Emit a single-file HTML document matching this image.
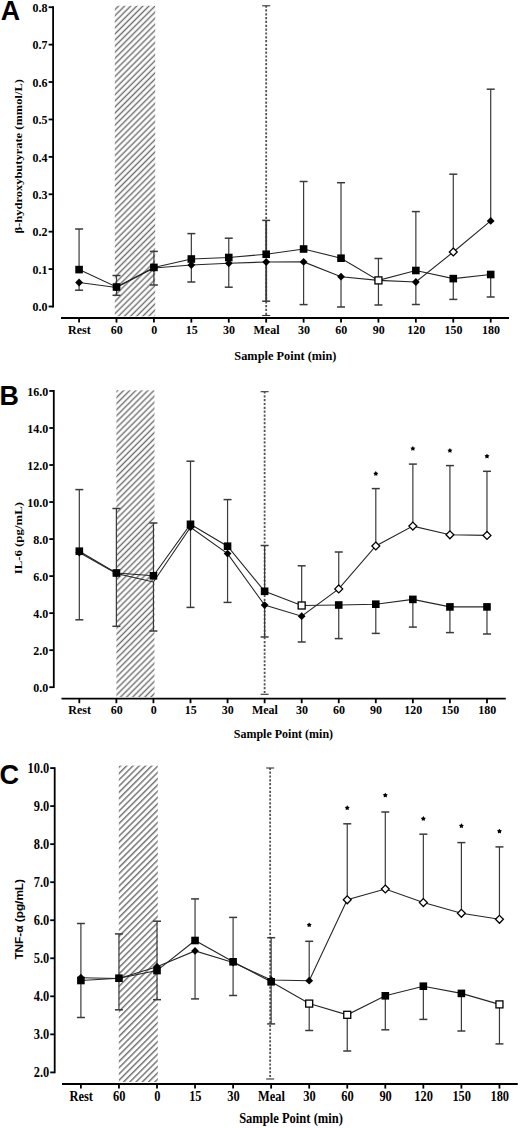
<!DOCTYPE html>
<html><head><meta charset="utf-8"><title>Figure</title>
<style>html,body{margin:0;padding:0;background:#fff;}svg{display:block;}</style>
</head><body>
<svg width="520" height="1128" viewBox="0 0 520 1128">
<defs>
<pattern id="h0" patternUnits="userSpaceOnUse" width="4.2992" height="4.2992" patternTransform="rotate(45 0 0)"><rect x="1.407" y="0" width="1.4" height="4.2992" fill="#6e6e6e"/><rect x="-2.892" y="0" width="1.4" height="4.2992" fill="#6e6e6e"/></pattern>
<pattern id="h1" patternUnits="userSpaceOnUse" width="4.2921" height="4.2921" patternTransform="rotate(45 0 0)"><rect x="2.284" y="0" width="1.4" height="4.2921" fill="#6e6e6e"/><rect x="-2.008" y="0" width="1.4" height="4.2921" fill="#6e6e6e"/></pattern>
<pattern id="h2" patternUnits="userSpaceOnUse" width="4.4265" height="4.4265" patternTransform="rotate(45 0 0)"><rect x="1.810" y="0" width="1.4" height="4.4265" fill="#6e6e6e"/><rect x="-2.616" y="0" width="1.4" height="4.4265" fill="#6e6e6e"/></pattern>
</defs>
<rect width="520" height="1128" fill="#fff"/>
<rect x="114.8" y="5.8" width="40.4" height="310.5" fill="url(#h0)"/>
<line x1="266.18" y1="5.8" x2="266.18" y2="315.5" stroke="#555" stroke-width="1.8" stroke-dasharray="2.2 1.64" stroke-dashoffset="0.3"/>
<line x1="262.18" y1="5.8" x2="270.18" y2="5.8" stroke="#333" stroke-width="1.1"/>
<line x1="262.18" y1="315.5" x2="270.18" y2="315.5" stroke="#333" stroke-width="1.1"/>
<line x1="79.08" y1="269.6" x2="79.08" y2="229" stroke="#3a3a3a" stroke-width="1.2"/>
<line x1="75.08" y1="229" x2="83.08" y2="229" stroke="#3a3a3a" stroke-width="1.5"/>
<line x1="116.5" y1="287" x2="116.5" y2="275.5" stroke="#3a3a3a" stroke-width="1.2"/>
<line x1="112.5" y1="275.5" x2="120.5" y2="275.5" stroke="#3a3a3a" stroke-width="1.5"/>
<line x1="153.92" y1="267.4" x2="153.92" y2="251.4" stroke="#3a3a3a" stroke-width="1.2"/>
<line x1="149.92" y1="251.4" x2="157.92" y2="251.4" stroke="#3a3a3a" stroke-width="1.5"/>
<line x1="191.34" y1="259" x2="191.34" y2="233.6" stroke="#3a3a3a" stroke-width="1.2"/>
<line x1="187.34" y1="233.6" x2="195.34" y2="233.6" stroke="#3a3a3a" stroke-width="1.5"/>
<line x1="228.76" y1="257.5" x2="228.76" y2="238.2" stroke="#3a3a3a" stroke-width="1.2"/>
<line x1="224.76" y1="238.2" x2="232.76" y2="238.2" stroke="#3a3a3a" stroke-width="1.5"/>
<line x1="266.18" y1="254.25" x2="266.18" y2="220.4" stroke="#3a3a3a" stroke-width="1.8"/>
<line x1="262.18" y1="220.4" x2="270.18" y2="220.4" stroke="#3a3a3a" stroke-width="1.5"/>
<line x1="303.6" y1="249" x2="303.6" y2="181.5" stroke="#3a3a3a" stroke-width="1.2"/>
<line x1="299.6" y1="181.5" x2="307.6" y2="181.5" stroke="#3a3a3a" stroke-width="1.5"/>
<line x1="341.02" y1="258.2" x2="341.02" y2="182.7" stroke="#3a3a3a" stroke-width="1.2"/>
<line x1="337.02" y1="182.7" x2="345.02" y2="182.7" stroke="#3a3a3a" stroke-width="1.5"/>
<line x1="378.44" y1="280.4" x2="378.44" y2="258.5" stroke="#3a3a3a" stroke-width="1.2"/>
<line x1="374.44" y1="258.5" x2="382.44" y2="258.5" stroke="#3a3a3a" stroke-width="1.5"/>
<line x1="415.86" y1="270.5" x2="415.86" y2="211.6" stroke="#3a3a3a" stroke-width="1.2"/>
<line x1="411.86" y1="211.6" x2="419.86" y2="211.6" stroke="#3a3a3a" stroke-width="1.5"/>
<line x1="453.28" y1="278.6" x2="453.28" y2="299.4" stroke="#3a3a3a" stroke-width="1.2"/>
<line x1="449.28" y1="299.4" x2="457.28" y2="299.4" stroke="#3a3a3a" stroke-width="1.5"/>
<line x1="490.7" y1="274.5" x2="490.7" y2="297" stroke="#3a3a3a" stroke-width="1.2"/>
<line x1="486.7" y1="297" x2="494.7" y2="297" stroke="#3a3a3a" stroke-width="1.5"/>
<line x1="79.08" y1="282.5" x2="79.08" y2="290.2" stroke="#3a3a3a" stroke-width="1.2"/>
<line x1="75.08" y1="290.2" x2="83.08" y2="290.2" stroke="#3a3a3a" stroke-width="1.5"/>
<line x1="116.5" y1="287.5" x2="116.5" y2="295.3" stroke="#3a3a3a" stroke-width="1.2"/>
<line x1="112.5" y1="295.3" x2="120.5" y2="295.3" stroke="#3a3a3a" stroke-width="1.5"/>
<line x1="153.92" y1="268" x2="153.92" y2="285" stroke="#3a3a3a" stroke-width="1.2"/>
<line x1="149.92" y1="285" x2="157.92" y2="285" stroke="#3a3a3a" stroke-width="1.5"/>
<line x1="191.34" y1="265" x2="191.34" y2="282" stroke="#3a3a3a" stroke-width="1.2"/>
<line x1="187.34" y1="282" x2="195.34" y2="282" stroke="#3a3a3a" stroke-width="1.5"/>
<line x1="228.76" y1="263.25" x2="228.76" y2="287.2" stroke="#3a3a3a" stroke-width="1.2"/>
<line x1="224.76" y1="287.2" x2="232.76" y2="287.2" stroke="#3a3a3a" stroke-width="1.5"/>
<line x1="266.18" y1="262" x2="266.18" y2="301.2" stroke="#3a3a3a" stroke-width="1.8"/>
<line x1="262.18" y1="301.2" x2="270.18" y2="301.2" stroke="#3a3a3a" stroke-width="1.5"/>
<line x1="303.6" y1="261.9" x2="303.6" y2="304.6" stroke="#3a3a3a" stroke-width="1.2"/>
<line x1="299.6" y1="304.6" x2="307.6" y2="304.6" stroke="#3a3a3a" stroke-width="1.5"/>
<line x1="341.02" y1="276.7" x2="341.02" y2="307" stroke="#3a3a3a" stroke-width="1.2"/>
<line x1="337.02" y1="307" x2="345.02" y2="307" stroke="#3a3a3a" stroke-width="1.5"/>
<line x1="378.44" y1="280.4" x2="378.44" y2="305" stroke="#3a3a3a" stroke-width="1.2"/>
<line x1="374.44" y1="305" x2="382.44" y2="305" stroke="#3a3a3a" stroke-width="1.5"/>
<line x1="415.86" y1="282" x2="415.86" y2="304.5" stroke="#3a3a3a" stroke-width="1.2"/>
<line x1="411.86" y1="304.5" x2="419.86" y2="304.5" stroke="#3a3a3a" stroke-width="1.5"/>
<line x1="453.28" y1="252" x2="453.28" y2="174.2" stroke="#3a3a3a" stroke-width="1.2"/>
<line x1="449.28" y1="174.2" x2="457.28" y2="174.2" stroke="#3a3a3a" stroke-width="1.5"/>
<line x1="490.7" y1="220.9" x2="490.7" y2="89.2" stroke="#3a3a3a" stroke-width="1.2"/>
<line x1="486.7" y1="89.2" x2="494.7" y2="89.2" stroke="#3a3a3a" stroke-width="1.5"/>
<polyline points="79.08,282.5 116.5,287.5 153.92,268 191.34,265 228.76,263.25 266.18,262 303.6,261.9 341.02,276.7 378.44,280.4 415.86,282 453.28,252 490.7,220.9" fill="none" stroke="#262626" stroke-width="1.1"/>
<polyline points="79.08,269.6 116.5,287 153.92,267.4 191.34,259 228.76,257.5 266.18,254.25 303.6,249 341.02,258.2 378.44,280.4 415.86,270.5 453.28,278.6 490.7,274.5" fill="none" stroke="#262626" stroke-width="1.1"/>
<polygon points="79.08,278.6 82.98,282.5 79.08,286.4 75.18,282.5" fill="#000"/>
<polygon points="116.5,283.6 120.4,287.5 116.5,291.4 112.6,287.5" fill="#000"/>
<polygon points="153.92,264.1 157.82,268 153.92,271.9 150.02,268" fill="#000"/>
<polygon points="191.34,261.1 195.24,265 191.34,268.9 187.44,265" fill="#000"/>
<polygon points="228.76,259.35 232.66,263.25 228.76,267.15 224.86,263.25" fill="#000"/>
<polygon points="266.18,258.1 270.08,262 266.18,265.9 262.28,262" fill="#000"/>
<polygon points="303.6,258 307.5,261.9 303.6,265.8 299.7,261.9" fill="#000"/>
<polygon points="341.02,272.8 344.92,276.7 341.02,280.6 337.12,276.7" fill="#000"/>
<polygon points="378.44,276.5 382.34,280.4 378.44,284.3 374.54,280.4" fill="#000"/>
<polygon points="415.86,278.1 419.76,282 415.86,285.9 411.96,282" fill="#000"/>
<polygon points="453.28,248.05 457.23,252 453.28,255.95 449.33,252" fill="#fff" stroke="#000" stroke-width="1.3"/>
<polygon points="490.7,217 494.6,220.9 490.7,224.8 486.8,220.9" fill="#000"/>
<rect x="75.28" y="265.8" width="7.6" height="7.6" fill="#000"/>
<rect x="112.7" y="283.2" width="7.6" height="7.6" fill="#000"/>
<rect x="150.12" y="263.6" width="7.6" height="7.6" fill="#000"/>
<rect x="187.54" y="255.2" width="7.6" height="7.6" fill="#000"/>
<rect x="224.96" y="253.7" width="7.6" height="7.6" fill="#000"/>
<rect x="262.38" y="250.45" width="7.6" height="7.6" fill="#000"/>
<rect x="299.8" y="245.2" width="7.6" height="7.6" fill="#000"/>
<rect x="337.22" y="254.4" width="7.6" height="7.6" fill="#000"/>
<rect x="374.94" y="276.9" width="7" height="7" fill="#fff" stroke="#000" stroke-width="1.3"/>
<rect x="412.06" y="266.7" width="7.6" height="7.6" fill="#000"/>
<rect x="449.48" y="274.8" width="7.6" height="7.6" fill="#000"/>
<rect x="486.9" y="270.7" width="7.6" height="7.6" fill="#000"/>
<line x1="53.1" y1="6.3" x2="53.1" y2="307.4" stroke="#000" stroke-width="1.8"/>
<line x1="48.6" y1="306.5" x2="53.1" y2="306.5" stroke="#000" stroke-width="1.8"/>
<text transform="translate(47.60,311.30) scale(1.0,1.1)" text-anchor="end" font-family='"Liberation Serif", serif' font-weight="bold" font-size="12">0.0</text>
<line x1="48.6" y1="269.09" x2="53.1" y2="269.09" stroke="#000" stroke-width="1.8"/>
<text transform="translate(47.60,273.89) scale(1.0,1.1)" text-anchor="end" font-family='"Liberation Serif", serif' font-weight="bold" font-size="12">0.1</text>
<line x1="48.6" y1="231.68" x2="53.1" y2="231.68" stroke="#000" stroke-width="1.8"/>
<text transform="translate(47.60,236.48) scale(1.0,1.1)" text-anchor="end" font-family='"Liberation Serif", serif' font-weight="bold" font-size="12">0.2</text>
<line x1="48.6" y1="194.27" x2="53.1" y2="194.27" stroke="#000" stroke-width="1.8"/>
<text transform="translate(47.60,199.07) scale(1.0,1.1)" text-anchor="end" font-family='"Liberation Serif", serif' font-weight="bold" font-size="12">0.3</text>
<line x1="48.6" y1="156.86" x2="53.1" y2="156.86" stroke="#000" stroke-width="1.8"/>
<text transform="translate(47.60,161.66) scale(1.0,1.1)" text-anchor="end" font-family='"Liberation Serif", serif' font-weight="bold" font-size="12">0.4</text>
<line x1="48.6" y1="119.45" x2="53.1" y2="119.45" stroke="#000" stroke-width="1.8"/>
<text transform="translate(47.60,124.25) scale(1.0,1.1)" text-anchor="end" font-family='"Liberation Serif", serif' font-weight="bold" font-size="12">0.5</text>
<line x1="48.6" y1="82.04" x2="53.1" y2="82.04" stroke="#000" stroke-width="1.8"/>
<text transform="translate(47.60,86.84) scale(1.0,1.1)" text-anchor="end" font-family='"Liberation Serif", serif' font-weight="bold" font-size="12">0.6</text>
<line x1="48.6" y1="44.63" x2="53.1" y2="44.63" stroke="#000" stroke-width="1.8"/>
<text transform="translate(47.60,49.43) scale(1.0,1.1)" text-anchor="end" font-family='"Liberation Serif", serif' font-weight="bold" font-size="12">0.7</text>
<line x1="48.6" y1="7.22" x2="53.1" y2="7.22" stroke="#000" stroke-width="1.8"/>
<text transform="translate(47.60,12.02) scale(1.0,1.1)" text-anchor="end" font-family='"Liberation Serif", serif' font-weight="bold" font-size="12">0.8</text>
<line x1="61" y1="318" x2="509" y2="318" stroke="#000" stroke-width="1.8"/>
<line x1="79.08" y1="318" x2="79.08" y2="322.6" stroke="#000" stroke-width="1.8"/>
<text transform="translate(79.38,334.30) scale(1.0,1.1)" text-anchor="middle" font-family='"Liberation Serif", serif' font-weight="bold" font-size="12">Rest</text>
<line x1="116.5" y1="318" x2="116.5" y2="322.6" stroke="#000" stroke-width="1.8"/>
<text transform="translate(116.80,334.30) scale(1.0,1.1)" text-anchor="middle" font-family='"Liberation Serif", serif' font-weight="bold" font-size="12">60</text>
<line x1="153.92" y1="318" x2="153.92" y2="322.6" stroke="#000" stroke-width="1.8"/>
<text transform="translate(154.22,334.30) scale(1.0,1.1)" text-anchor="middle" font-family='"Liberation Serif", serif' font-weight="bold" font-size="12">0</text>
<line x1="191.34" y1="318" x2="191.34" y2="322.6" stroke="#000" stroke-width="1.8"/>
<text transform="translate(191.64,334.30) scale(1.0,1.1)" text-anchor="middle" font-family='"Liberation Serif", serif' font-weight="bold" font-size="12">15</text>
<line x1="228.76" y1="318" x2="228.76" y2="322.6" stroke="#000" stroke-width="1.8"/>
<text transform="translate(229.06,334.30) scale(1.0,1.1)" text-anchor="middle" font-family='"Liberation Serif", serif' font-weight="bold" font-size="12">30</text>
<line x1="266.18" y1="318" x2="266.18" y2="322.6" stroke="#000" stroke-width="1.8"/>
<text transform="translate(266.48,334.30) scale(1.0,1.1)" text-anchor="middle" font-family='"Liberation Serif", serif' font-weight="bold" font-size="12">Meal</text>
<line x1="303.6" y1="318" x2="303.6" y2="322.6" stroke="#000" stroke-width="1.8"/>
<text transform="translate(303.90,334.30) scale(1.0,1.1)" text-anchor="middle" font-family='"Liberation Serif", serif' font-weight="bold" font-size="12">30</text>
<line x1="341.02" y1="318" x2="341.02" y2="322.6" stroke="#000" stroke-width="1.8"/>
<text transform="translate(341.32,334.30) scale(1.0,1.1)" text-anchor="middle" font-family='"Liberation Serif", serif' font-weight="bold" font-size="12">60</text>
<line x1="378.44" y1="318" x2="378.44" y2="322.6" stroke="#000" stroke-width="1.8"/>
<text transform="translate(378.74,334.30) scale(1.0,1.1)" text-anchor="middle" font-family='"Liberation Serif", serif' font-weight="bold" font-size="12">90</text>
<line x1="415.86" y1="318" x2="415.86" y2="322.6" stroke="#000" stroke-width="1.8"/>
<text transform="translate(416.16,334.30) scale(1.0,1.1)" text-anchor="middle" font-family='"Liberation Serif", serif' font-weight="bold" font-size="12">120</text>
<line x1="453.28" y1="318" x2="453.28" y2="322.6" stroke="#000" stroke-width="1.8"/>
<text transform="translate(453.58,334.30) scale(1.0,1.1)" text-anchor="middle" font-family='"Liberation Serif", serif' font-weight="bold" font-size="12">150</text>
<line x1="490.7" y1="318" x2="490.7" y2="322.6" stroke="#000" stroke-width="1.8"/>
<text transform="translate(491.00,334.30) scale(1.0,1.1)" text-anchor="middle" font-family='"Liberation Serif", serif' font-weight="bold" font-size="12">180</text>
<text transform="translate(285.40,360.10) scale(1.02,1.1)" text-anchor="middle" font-family='"Liberation Serif", serif' font-weight="bold" font-size="12.1">Sample Point (min)</text>
<text transform="translate(22.2,156.3) scale(1,1.11) rotate(-90)" x="0" y="0" text-anchor="middle" font-family='"Liberation Serif", serif' font-weight="bold" font-size="11.25">β-hydroxybutyrate (mmol/L)</text>
<text x="0.7" y="19.8" font-family='"Liberation Sans", sans-serif' font-weight="bold" font-size="26.8">A</text>
<rect x="116.4" y="390.3" width="38.1" height="306.7" fill="url(#h1)"/>
<line x1="264.62" y1="391.7" x2="264.62" y2="694.3" stroke="#555" stroke-width="1.8" stroke-dasharray="2.2 1.64" stroke-dashoffset="0.3"/>
<line x1="260.62" y1="391.7" x2="268.62" y2="391.7" stroke="#333" stroke-width="1.1"/>
<line x1="260.62" y1="694.3" x2="268.62" y2="694.3" stroke="#333" stroke-width="1.1"/>
<line x1="79.32" y1="551.2" x2="79.32" y2="489.6" stroke="#3a3a3a" stroke-width="1.2"/>
<line x1="75.32" y1="489.6" x2="83.32" y2="489.6" stroke="#3a3a3a" stroke-width="1.5"/>
<line x1="116.38" y1="573" x2="116.38" y2="508.5" stroke="#3a3a3a" stroke-width="1.2"/>
<line x1="112.38" y1="508.5" x2="120.38" y2="508.5" stroke="#3a3a3a" stroke-width="1.5"/>
<line x1="153.44" y1="575.8" x2="153.44" y2="523" stroke="#3a3a3a" stroke-width="1.2"/>
<line x1="149.44" y1="523" x2="157.44" y2="523" stroke="#3a3a3a" stroke-width="1.5"/>
<line x1="190.5" y1="524.3" x2="190.5" y2="461.2" stroke="#3a3a3a" stroke-width="1.2"/>
<line x1="186.5" y1="461.2" x2="194.5" y2="461.2" stroke="#3a3a3a" stroke-width="1.5"/>
<line x1="227.56" y1="546.2" x2="227.56" y2="499.6" stroke="#3a3a3a" stroke-width="1.2"/>
<line x1="223.56" y1="499.6" x2="231.56" y2="499.6" stroke="#3a3a3a" stroke-width="1.5"/>
<line x1="264.62" y1="591.3" x2="264.62" y2="545.5" stroke="#3a3a3a" stroke-width="1.2"/>
<line x1="260.62" y1="545.5" x2="268.62" y2="545.5" stroke="#3a3a3a" stroke-width="1.5"/>
<line x1="301.68" y1="605.5" x2="301.68" y2="565.8" stroke="#3a3a3a" stroke-width="1.2"/>
<line x1="297.68" y1="565.8" x2="305.68" y2="565.8" stroke="#3a3a3a" stroke-width="1.5"/>
<line x1="338.74" y1="605" x2="338.74" y2="638.6" stroke="#3a3a3a" stroke-width="1.2"/>
<line x1="334.74" y1="638.6" x2="342.74" y2="638.6" stroke="#3a3a3a" stroke-width="1.5"/>
<line x1="375.8" y1="604.2" x2="375.8" y2="633.4" stroke="#3a3a3a" stroke-width="1.2"/>
<line x1="371.8" y1="633.4" x2="379.8" y2="633.4" stroke="#3a3a3a" stroke-width="1.5"/>
<line x1="412.86" y1="599.4" x2="412.86" y2="627.1" stroke="#3a3a3a" stroke-width="1.2"/>
<line x1="408.86" y1="627.1" x2="416.86" y2="627.1" stroke="#3a3a3a" stroke-width="1.5"/>
<line x1="449.92" y1="606.9" x2="449.92" y2="632.6" stroke="#3a3a3a" stroke-width="1.2"/>
<line x1="445.92" y1="632.6" x2="453.92" y2="632.6" stroke="#3a3a3a" stroke-width="1.5"/>
<line x1="486.98" y1="606.9" x2="486.98" y2="634" stroke="#3a3a3a" stroke-width="1.2"/>
<line x1="482.98" y1="634" x2="490.98" y2="634" stroke="#3a3a3a" stroke-width="1.5"/>
<line x1="79.32" y1="552.6" x2="79.32" y2="619.8" stroke="#3a3a3a" stroke-width="1.2"/>
<line x1="75.32" y1="619.8" x2="83.32" y2="619.8" stroke="#3a3a3a" stroke-width="1.5"/>
<line x1="116.38" y1="573.6" x2="116.38" y2="626.3" stroke="#3a3a3a" stroke-width="1.2"/>
<line x1="112.38" y1="626.3" x2="120.38" y2="626.3" stroke="#3a3a3a" stroke-width="1.5"/>
<line x1="153.44" y1="582" x2="153.44" y2="631" stroke="#3a3a3a" stroke-width="1.2"/>
<line x1="149.44" y1="631" x2="157.44" y2="631" stroke="#3a3a3a" stroke-width="1.5"/>
<line x1="190.5" y1="527.3" x2="190.5" y2="607.4" stroke="#3a3a3a" stroke-width="1.2"/>
<line x1="186.5" y1="607.4" x2="194.5" y2="607.4" stroke="#3a3a3a" stroke-width="1.5"/>
<line x1="227.56" y1="553.6" x2="227.56" y2="602.4" stroke="#3a3a3a" stroke-width="1.2"/>
<line x1="223.56" y1="602.4" x2="231.56" y2="602.4" stroke="#3a3a3a" stroke-width="1.5"/>
<line x1="264.62" y1="605.1" x2="264.62" y2="637" stroke="#3a3a3a" stroke-width="1.2"/>
<line x1="260.62" y1="637" x2="268.62" y2="637" stroke="#3a3a3a" stroke-width="1.5"/>
<line x1="301.68" y1="616.2" x2="301.68" y2="642" stroke="#3a3a3a" stroke-width="1.2"/>
<line x1="297.68" y1="642" x2="305.68" y2="642" stroke="#3a3a3a" stroke-width="1.5"/>
<line x1="338.74" y1="588.9" x2="338.74" y2="552" stroke="#3a3a3a" stroke-width="1.2"/>
<line x1="334.74" y1="552" x2="342.74" y2="552" stroke="#3a3a3a" stroke-width="1.5"/>
<line x1="375.8" y1="546" x2="375.8" y2="488.6" stroke="#3a3a3a" stroke-width="1.2"/>
<line x1="371.8" y1="488.6" x2="379.8" y2="488.6" stroke="#3a3a3a" stroke-width="1.5"/>
<line x1="412.86" y1="526.1" x2="412.86" y2="464.1" stroke="#3a3a3a" stroke-width="1.2"/>
<line x1="408.86" y1="464.1" x2="416.86" y2="464.1" stroke="#3a3a3a" stroke-width="1.5"/>
<line x1="449.92" y1="534.8" x2="449.92" y2="465.6" stroke="#3a3a3a" stroke-width="1.2"/>
<line x1="445.92" y1="465.6" x2="453.92" y2="465.6" stroke="#3a3a3a" stroke-width="1.5"/>
<line x1="486.98" y1="535.4" x2="486.98" y2="471.3" stroke="#3a3a3a" stroke-width="1.2"/>
<line x1="482.98" y1="471.3" x2="490.98" y2="471.3" stroke="#3a3a3a" stroke-width="1.5"/>
<polyline points="79.32,552.6 116.38,573.6 153.44,582 190.5,527.3 227.56,553.6 264.62,605.1 301.68,616.2 338.74,588.9 375.8,546 412.86,526.1 449.92,534.8 486.98,535.4" fill="none" stroke="#262626" stroke-width="1.1"/>
<polyline points="79.32,551.2 116.38,573 153.44,575.8 190.5,524.3 227.56,546.2 264.62,591.3 301.68,605.5 338.74,605 375.8,604.2 412.86,599.4 449.92,606.9 486.98,606.9" fill="none" stroke="#262626" stroke-width="1.1"/>
<polygon points="79.32,548.7 83.22,552.6 79.32,556.5 75.42,552.6" fill="#000"/>
<polygon points="116.38,569.7 120.28,573.6 116.38,577.5 112.48,573.6" fill="#000"/>
<polygon points="190.5,523.4 194.4,527.3 190.5,531.2 186.6,527.3" fill="#000"/>
<polygon points="227.56,549.7 231.46,553.6 227.56,557.5 223.66,553.6" fill="#000"/>
<polygon points="264.62,601.2 268.52,605.1 264.62,609 260.72,605.1" fill="#000"/>
<polygon points="301.68,612.3 305.58,616.2 301.68,620.1 297.78,616.2" fill="#000"/>
<polygon points="338.74,584.95 342.69,588.9 338.74,592.85 334.79,588.9" fill="#fff" stroke="#000" stroke-width="1.3"/>
<polygon points="375.8,542.05 379.75,546 375.8,549.95 371.85,546" fill="#fff" stroke="#000" stroke-width="1.3"/>
<polygon points="412.86,522.15 416.81,526.1 412.86,530.05 408.91,526.1" fill="#fff" stroke="#000" stroke-width="1.3"/>
<polygon points="449.92,530.85 453.87,534.8 449.92,538.75 445.97,534.8" fill="#fff" stroke="#000" stroke-width="1.3"/>
<polygon points="486.98,531.45 490.93,535.4 486.98,539.35 483.03,535.4" fill="#fff" stroke="#000" stroke-width="1.3"/>
<rect x="75.52" y="547.4" width="7.6" height="7.6" fill="#000"/>
<rect x="112.58" y="569.2" width="7.6" height="7.6" fill="#000"/>
<rect x="149.64" y="572" width="7.6" height="7.6" fill="#000"/>
<rect x="186.7" y="520.5" width="7.6" height="7.6" fill="#000"/>
<rect x="223.76" y="542.4" width="7.6" height="7.6" fill="#000"/>
<rect x="260.82" y="587.5" width="7.6" height="7.6" fill="#000"/>
<rect x="298.18" y="602" width="7" height="7" fill="#fff" stroke="#000" stroke-width="1.3"/>
<rect x="334.94" y="601.2" width="7.6" height="7.6" fill="#000"/>
<rect x="372" y="600.4" width="7.6" height="7.6" fill="#000"/>
<rect x="409.06" y="595.6" width="7.6" height="7.6" fill="#000"/>
<rect x="446.12" y="603.1" width="7.6" height="7.6" fill="#000"/>
<rect x="483.18" y="603.1" width="7.6" height="7.6" fill="#000"/>
<polygon points="375.8,471.1 376.68,472.49 378.27,472.9 377.23,474.16 377.33,475.8 375.8,475.2 374.27,475.8 374.37,474.16 373.33,472.9 374.92,472.49" fill="#000"/>
<polygon points="412.86,446 413.74,447.39 415.33,447.8 414.29,449.06 414.39,450.7 412.86,450.1 411.33,450.7 411.43,449.06 410.39,447.8 411.98,447.39" fill="#000"/>
<polygon points="449.92,448 450.8,449.39 452.39,449.8 451.35,451.06 451.45,452.7 449.92,452.1 448.39,452.7 448.49,451.06 447.45,449.8 449.04,449.39" fill="#000"/>
<polygon points="486.98,453.7 487.86,455.09 489.45,455.5 488.41,456.76 488.51,458.4 486.98,457.8 485.45,458.4 485.55,456.76 484.51,455.5 486.1,455.09" fill="#000"/>
<line x1="53.8" y1="390.1" x2="53.8" y2="688.1" stroke="#000" stroke-width="1.8"/>
<line x1="49.3" y1="687.2" x2="53.8" y2="687.2" stroke="#000" stroke-width="1.8"/>
<text transform="translate(48.30,692.00) scale(1.0,1.1)" text-anchor="end" font-family='"Liberation Serif", serif' font-weight="bold" font-size="12">0.0</text>
<line x1="49.3" y1="650.17" x2="53.8" y2="650.17" stroke="#000" stroke-width="1.8"/>
<text transform="translate(48.30,654.97) scale(1.0,1.1)" text-anchor="end" font-family='"Liberation Serif", serif' font-weight="bold" font-size="12">2.0</text>
<line x1="49.3" y1="613.14" x2="53.8" y2="613.14" stroke="#000" stroke-width="1.8"/>
<text transform="translate(48.30,617.94) scale(1.0,1.1)" text-anchor="end" font-family='"Liberation Serif", serif' font-weight="bold" font-size="12">4.0</text>
<line x1="49.3" y1="576.11" x2="53.8" y2="576.11" stroke="#000" stroke-width="1.8"/>
<text transform="translate(48.30,580.91) scale(1.0,1.1)" text-anchor="end" font-family='"Liberation Serif", serif' font-weight="bold" font-size="12">6.0</text>
<line x1="49.3" y1="539.08" x2="53.8" y2="539.08" stroke="#000" stroke-width="1.8"/>
<text transform="translate(48.30,543.88) scale(1.0,1.1)" text-anchor="end" font-family='"Liberation Serif", serif' font-weight="bold" font-size="12">8.0</text>
<line x1="49.3" y1="502.05" x2="53.8" y2="502.05" stroke="#000" stroke-width="1.8"/>
<text transform="translate(48.30,506.85) scale(1.0,1.1)" text-anchor="end" font-family='"Liberation Serif", serif' font-weight="bold" font-size="12">10.0</text>
<line x1="49.3" y1="465.02" x2="53.8" y2="465.02" stroke="#000" stroke-width="1.8"/>
<text transform="translate(48.30,469.82) scale(1.0,1.1)" text-anchor="end" font-family='"Liberation Serif", serif' font-weight="bold" font-size="12">12.0</text>
<line x1="49.3" y1="427.99" x2="53.8" y2="427.99" stroke="#000" stroke-width="1.8"/>
<text transform="translate(48.30,432.79) scale(1.0,1.1)" text-anchor="end" font-family='"Liberation Serif", serif' font-weight="bold" font-size="12">14.0</text>
<line x1="49.3" y1="390.96" x2="53.8" y2="390.96" stroke="#000" stroke-width="1.8"/>
<text transform="translate(48.30,395.76) scale(1.0,1.1)" text-anchor="end" font-family='"Liberation Serif", serif' font-weight="bold" font-size="12">16.0</text>
<line x1="61.5" y1="698.6" x2="505.8" y2="698.6" stroke="#000" stroke-width="1.8"/>
<line x1="79.32" y1="698.6" x2="79.32" y2="703.2" stroke="#000" stroke-width="1.8"/>
<text transform="translate(79.62,714.00) scale(1.0,1.1)" text-anchor="middle" font-family='"Liberation Serif", serif' font-weight="bold" font-size="12">Rest</text>
<line x1="116.38" y1="698.6" x2="116.38" y2="703.2" stroke="#000" stroke-width="1.8"/>
<text transform="translate(116.68,714.00) scale(1.0,1.1)" text-anchor="middle" font-family='"Liberation Serif", serif' font-weight="bold" font-size="12">60</text>
<line x1="153.44" y1="698.6" x2="153.44" y2="703.2" stroke="#000" stroke-width="1.8"/>
<text transform="translate(153.74,714.00) scale(1.0,1.1)" text-anchor="middle" font-family='"Liberation Serif", serif' font-weight="bold" font-size="12">0</text>
<line x1="190.5" y1="698.6" x2="190.5" y2="703.2" stroke="#000" stroke-width="1.8"/>
<text transform="translate(190.80,714.00) scale(1.0,1.1)" text-anchor="middle" font-family='"Liberation Serif", serif' font-weight="bold" font-size="12">15</text>
<line x1="227.56" y1="698.6" x2="227.56" y2="703.2" stroke="#000" stroke-width="1.8"/>
<text transform="translate(227.86,714.00) scale(1.0,1.1)" text-anchor="middle" font-family='"Liberation Serif", serif' font-weight="bold" font-size="12">30</text>
<line x1="264.62" y1="698.6" x2="264.62" y2="703.2" stroke="#000" stroke-width="1.8"/>
<text transform="translate(264.92,714.00) scale(1.0,1.1)" text-anchor="middle" font-family='"Liberation Serif", serif' font-weight="bold" font-size="12">Meal</text>
<line x1="301.68" y1="698.6" x2="301.68" y2="703.2" stroke="#000" stroke-width="1.8"/>
<text transform="translate(301.98,714.00) scale(1.0,1.1)" text-anchor="middle" font-family='"Liberation Serif", serif' font-weight="bold" font-size="12">30</text>
<line x1="338.74" y1="698.6" x2="338.74" y2="703.2" stroke="#000" stroke-width="1.8"/>
<text transform="translate(339.04,714.00) scale(1.0,1.1)" text-anchor="middle" font-family='"Liberation Serif", serif' font-weight="bold" font-size="12">60</text>
<line x1="375.8" y1="698.6" x2="375.8" y2="703.2" stroke="#000" stroke-width="1.8"/>
<text transform="translate(376.10,714.00) scale(1.0,1.1)" text-anchor="middle" font-family='"Liberation Serif", serif' font-weight="bold" font-size="12">90</text>
<line x1="412.86" y1="698.6" x2="412.86" y2="703.2" stroke="#000" stroke-width="1.8"/>
<text transform="translate(413.16,714.00) scale(1.0,1.1)" text-anchor="middle" font-family='"Liberation Serif", serif' font-weight="bold" font-size="12">120</text>
<line x1="449.92" y1="698.6" x2="449.92" y2="703.2" stroke="#000" stroke-width="1.8"/>
<text transform="translate(450.22,714.00) scale(1.0,1.1)" text-anchor="middle" font-family='"Liberation Serif", serif' font-weight="bold" font-size="12">150</text>
<line x1="486.98" y1="698.6" x2="486.98" y2="703.2" stroke="#000" stroke-width="1.8"/>
<text transform="translate(487.28,714.00) scale(1.0,1.1)" text-anchor="middle" font-family='"Liberation Serif", serif' font-weight="bold" font-size="12">180</text>
<text transform="translate(283.40,737.50) scale(1.0,1.1)" text-anchor="middle" font-family='"Liberation Serif", serif' font-weight="bold" font-size="12.0">Sample Point (min)</text>
<text transform="translate(22,538.2) scale(1,1.13) rotate(-90)" x="0" y="0" text-anchor="middle" font-family='"Liberation Serif", serif' font-weight="bold" font-size="11.35">IL-6 (pg/mL)</text>
<text x="-0.6" y="405.1" font-family='"Liberation Sans", sans-serif' font-weight="bold" font-size="26.8">B</text>
<rect x="118.8" y="765.6" width="39" height="316.4" fill="url(#h2)"/>
<line x1="270.15" y1="768" x2="270.15" y2="1079" stroke="#555" stroke-width="1.8" stroke-dasharray="2.2 1.64" stroke-dashoffset="0.3"/>
<line x1="266.15" y1="768" x2="274.15" y2="768" stroke="#333" stroke-width="1.1"/>
<line x1="266.15" y1="1079" x2="274.15" y2="1079" stroke="#333" stroke-width="1.1"/>
<line x1="80.9" y1="980.5" x2="80.9" y2="923.5" stroke="#3a3a3a" stroke-width="1.2"/>
<line x1="76.9" y1="923.5" x2="84.9" y2="923.5" stroke="#3a3a3a" stroke-width="1.5"/>
<line x1="118.95" y1="978.2" x2="118.95" y2="933.9" stroke="#3a3a3a" stroke-width="1.2"/>
<line x1="114.95" y1="933.9" x2="122.95" y2="933.9" stroke="#3a3a3a" stroke-width="1.5"/>
<line x1="157" y1="970.6" x2="157" y2="921.2" stroke="#3a3a3a" stroke-width="1.2"/>
<line x1="153" y1="921.2" x2="161" y2="921.2" stroke="#3a3a3a" stroke-width="1.5"/>
<line x1="195.05" y1="940.5" x2="195.05" y2="898.9" stroke="#3a3a3a" stroke-width="1.2"/>
<line x1="191.05" y1="898.9" x2="199.05" y2="898.9" stroke="#3a3a3a" stroke-width="1.5"/>
<line x1="233.1" y1="961.8" x2="233.1" y2="917.4" stroke="#3a3a3a" stroke-width="1.2"/>
<line x1="229.1" y1="917.4" x2="237.1" y2="917.4" stroke="#3a3a3a" stroke-width="1.5"/>
<line x1="271.15" y1="981.8" x2="271.15" y2="937.7" stroke="#3a3a3a" stroke-width="1.2"/>
<line x1="267.15" y1="937.7" x2="275.15" y2="937.7" stroke="#3a3a3a" stroke-width="1.5"/>
<line x1="309.2" y1="1003.6" x2="309.2" y2="1030.5" stroke="#3a3a3a" stroke-width="1.2"/>
<line x1="305.2" y1="1030.5" x2="313.2" y2="1030.5" stroke="#3a3a3a" stroke-width="1.5"/>
<line x1="347.25" y1="1014.8" x2="347.25" y2="1051" stroke="#3a3a3a" stroke-width="1.2"/>
<line x1="343.25" y1="1051" x2="351.25" y2="1051" stroke="#3a3a3a" stroke-width="1.5"/>
<line x1="385.3" y1="995.8" x2="385.3" y2="1029.8" stroke="#3a3a3a" stroke-width="1.2"/>
<line x1="381.3" y1="1029.8" x2="389.3" y2="1029.8" stroke="#3a3a3a" stroke-width="1.5"/>
<line x1="423.35" y1="986.2" x2="423.35" y2="1019.4" stroke="#3a3a3a" stroke-width="1.2"/>
<line x1="419.35" y1="1019.4" x2="427.35" y2="1019.4" stroke="#3a3a3a" stroke-width="1.5"/>
<line x1="461.4" y1="993.4" x2="461.4" y2="1031" stroke="#3a3a3a" stroke-width="1.2"/>
<line x1="457.4" y1="1031" x2="465.4" y2="1031" stroke="#3a3a3a" stroke-width="1.5"/>
<line x1="499.45" y1="1004.4" x2="499.45" y2="1043.9" stroke="#3a3a3a" stroke-width="1.2"/>
<line x1="495.45" y1="1043.9" x2="503.45" y2="1043.9" stroke="#3a3a3a" stroke-width="1.5"/>
<line x1="80.9" y1="977.7" x2="80.9" y2="1017.5" stroke="#3a3a3a" stroke-width="1.2"/>
<line x1="76.9" y1="1017.5" x2="84.9" y2="1017.5" stroke="#3a3a3a" stroke-width="1.5"/>
<line x1="118.95" y1="978.5" x2="118.95" y2="1009.8" stroke="#3a3a3a" stroke-width="1.2"/>
<line x1="114.95" y1="1009.8" x2="122.95" y2="1009.8" stroke="#3a3a3a" stroke-width="1.5"/>
<line x1="157" y1="966.7" x2="157" y2="999.7" stroke="#3a3a3a" stroke-width="1.2"/>
<line x1="153" y1="999.7" x2="161" y2="999.7" stroke="#3a3a3a" stroke-width="1.5"/>
<line x1="195.05" y1="950.9" x2="195.05" y2="998.9" stroke="#3a3a3a" stroke-width="1.2"/>
<line x1="191.05" y1="998.9" x2="199.05" y2="998.9" stroke="#3a3a3a" stroke-width="1.5"/>
<line x1="233.1" y1="962.5" x2="233.1" y2="995.5" stroke="#3a3a3a" stroke-width="1.2"/>
<line x1="229.1" y1="995.5" x2="237.1" y2="995.5" stroke="#3a3a3a" stroke-width="1.5"/>
<line x1="271.15" y1="980" x2="271.15" y2="1023.9" stroke="#3a3a3a" stroke-width="1.2"/>
<line x1="267.15" y1="1023.9" x2="275.15" y2="1023.9" stroke="#3a3a3a" stroke-width="1.5"/>
<line x1="309.2" y1="980.7" x2="309.2" y2="941.3" stroke="#3a3a3a" stroke-width="1.2"/>
<line x1="305.2" y1="941.3" x2="313.2" y2="941.3" stroke="#3a3a3a" stroke-width="1.5"/>
<line x1="347.25" y1="899.8" x2="347.25" y2="823.8" stroke="#3a3a3a" stroke-width="1.2"/>
<line x1="343.25" y1="823.8" x2="351.25" y2="823.8" stroke="#3a3a3a" stroke-width="1.5"/>
<line x1="385.3" y1="889" x2="385.3" y2="812" stroke="#3a3a3a" stroke-width="1.2"/>
<line x1="381.3" y1="812" x2="389.3" y2="812" stroke="#3a3a3a" stroke-width="1.5"/>
<line x1="423.35" y1="902.6" x2="423.35" y2="834.2" stroke="#3a3a3a" stroke-width="1.2"/>
<line x1="419.35" y1="834.2" x2="427.35" y2="834.2" stroke="#3a3a3a" stroke-width="1.5"/>
<line x1="461.4" y1="913.3" x2="461.4" y2="842.6" stroke="#3a3a3a" stroke-width="1.2"/>
<line x1="457.4" y1="842.6" x2="465.4" y2="842.6" stroke="#3a3a3a" stroke-width="1.5"/>
<line x1="499.45" y1="919.3" x2="499.45" y2="846.9" stroke="#3a3a3a" stroke-width="1.2"/>
<line x1="495.45" y1="846.9" x2="503.45" y2="846.9" stroke="#3a3a3a" stroke-width="1.5"/>
<polyline points="80.9,977.7 118.95,978.5 157,966.7 195.05,950.9 233.1,962.5 271.15,980 309.2,980.7 347.25,899.8 385.3,889 423.35,902.6 461.4,913.3 499.45,919.3" fill="none" stroke="#262626" stroke-width="1.1"/>
<polyline points="80.9,980.5 118.95,978.2 157,970.6 195.05,940.5 233.1,961.8 271.15,981.8 309.2,1003.6 347.25,1014.8 385.3,995.8 423.35,986.2 461.4,993.4 499.45,1004.4" fill="none" stroke="#262626" stroke-width="1.1"/>
<polygon points="80.9,973.8 84.8,977.7 80.9,981.6 77,977.7" fill="#000"/>
<polygon points="118.95,974.6 122.85,978.5 118.95,982.4 115.05,978.5" fill="#000"/>
<polygon points="157,962.8 160.9,966.7 157,970.6 153.1,966.7" fill="#000"/>
<polygon points="195.05,947 198.95,950.9 195.05,954.8 191.15,950.9" fill="#000"/>
<polygon points="233.1,958.6 237,962.5 233.1,966.4 229.2,962.5" fill="#000"/>
<polygon points="271.15,976.1 275.05,980 271.15,983.9 267.25,980" fill="#000"/>
<polygon points="309.2,976.8 313.1,980.7 309.2,984.6 305.3,980.7" fill="#000"/>
<polygon points="347.25,895.85 351.2,899.8 347.25,903.75 343.3,899.8" fill="#fff" stroke="#000" stroke-width="1.3"/>
<polygon points="385.3,885.05 389.25,889 385.3,892.95 381.35,889" fill="#fff" stroke="#000" stroke-width="1.3"/>
<polygon points="423.35,898.65 427.3,902.6 423.35,906.55 419.4,902.6" fill="#fff" stroke="#000" stroke-width="1.3"/>
<polygon points="461.4,909.35 465.35,913.3 461.4,917.25 457.45,913.3" fill="#fff" stroke="#000" stroke-width="1.3"/>
<polygon points="499.45,915.35 503.4,919.3 499.45,923.25 495.5,919.3" fill="#fff" stroke="#000" stroke-width="1.3"/>
<rect x="77.1" y="976.7" width="7.6" height="7.6" fill="#000"/>
<rect x="115.15" y="974.4" width="7.6" height="7.6" fill="#000"/>
<rect x="153.2" y="966.8" width="7.6" height="7.6" fill="#000"/>
<rect x="191.25" y="936.7" width="7.6" height="7.6" fill="#000"/>
<rect x="229.3" y="958" width="7.6" height="7.6" fill="#000"/>
<rect x="267.35" y="978" width="7.6" height="7.6" fill="#000"/>
<rect x="305.7" y="1000.1" width="7" height="7" fill="#fff" stroke="#000" stroke-width="1.3"/>
<rect x="343.75" y="1011.3" width="7" height="7" fill="#fff" stroke="#000" stroke-width="1.3"/>
<rect x="381.5" y="992" width="7.6" height="7.6" fill="#000"/>
<rect x="419.55" y="982.4" width="7.6" height="7.6" fill="#000"/>
<rect x="457.6" y="989.6" width="7.6" height="7.6" fill="#000"/>
<rect x="495.95" y="1000.9" width="7" height="7" fill="#fff" stroke="#000" stroke-width="1.3"/>
<polygon points="309.2,922.4 310.08,923.79 311.67,924.2 310.63,925.46 310.73,927.1 309.2,926.5 307.67,927.1 307.77,925.46 306.73,924.2 308.32,923.79" fill="#000"/>
<polygon points="347.25,805.3 348.13,806.69 349.72,807.1 348.68,808.36 348.78,810 347.25,809.4 345.72,810 345.82,808.36 344.78,807.1 346.37,806.69" fill="#000"/>
<polygon points="385.3,792.7 386.18,794.09 387.77,794.5 386.73,795.76 386.83,797.4 385.3,796.8 383.77,797.4 383.87,795.76 382.83,794.5 384.42,794.09" fill="#000"/>
<polygon points="423.35,816.1 424.23,817.49 425.82,817.9 424.78,819.16 424.88,820.8 423.35,820.2 421.82,820.8 421.92,819.16 420.88,817.9 422.47,817.49" fill="#000"/>
<polygon points="461.4,823.3 462.28,824.69 463.87,825.1 462.83,826.36 462.93,828 461.4,827.4 459.87,828 459.97,826.36 458.93,825.1 460.52,824.69" fill="#000"/>
<polygon points="499.45,828.7 500.33,830.09 501.92,830.5 500.88,831.76 500.98,833.4 499.45,832.8 497.92,833.4 498.02,831.76 496.98,830.5 498.57,830.09" fill="#000"/>
<line x1="54.7" y1="767.2" x2="54.7" y2="1073.3" stroke="#000" stroke-width="1.8"/>
<line x1="50.2" y1="1072.4" x2="54.7" y2="1072.4" stroke="#000" stroke-width="1.8"/>
<text transform="translate(49.20,1077.30) scale(1.01,1.1)" text-anchor="end" font-family='"Liberation Serif", serif' font-weight="bold" font-size="12.3">2.0</text>
<line x1="50.2" y1="1034.36" x2="54.7" y2="1034.36" stroke="#000" stroke-width="1.8"/>
<text transform="translate(49.20,1039.26) scale(1.01,1.1)" text-anchor="end" font-family='"Liberation Serif", serif' font-weight="bold" font-size="12.3">3.0</text>
<line x1="50.2" y1="996.32" x2="54.7" y2="996.32" stroke="#000" stroke-width="1.8"/>
<text transform="translate(49.20,1001.22) scale(1.01,1.1)" text-anchor="end" font-family='"Liberation Serif", serif' font-weight="bold" font-size="12.3">4.0</text>
<line x1="50.2" y1="958.28" x2="54.7" y2="958.28" stroke="#000" stroke-width="1.8"/>
<text transform="translate(49.20,963.18) scale(1.01,1.1)" text-anchor="end" font-family='"Liberation Serif", serif' font-weight="bold" font-size="12.3">5.0</text>
<line x1="50.2" y1="920.24" x2="54.7" y2="920.24" stroke="#000" stroke-width="1.8"/>
<text transform="translate(49.20,925.14) scale(1.01,1.1)" text-anchor="end" font-family='"Liberation Serif", serif' font-weight="bold" font-size="12.3">6.0</text>
<line x1="50.2" y1="882.2" x2="54.7" y2="882.2" stroke="#000" stroke-width="1.8"/>
<text transform="translate(49.20,887.10) scale(1.01,1.1)" text-anchor="end" font-family='"Liberation Serif", serif' font-weight="bold" font-size="12.3">7.0</text>
<line x1="50.2" y1="844.16" x2="54.7" y2="844.16" stroke="#000" stroke-width="1.8"/>
<text transform="translate(49.20,849.06) scale(1.01,1.1)" text-anchor="end" font-family='"Liberation Serif", serif' font-weight="bold" font-size="12.3">8.0</text>
<line x1="50.2" y1="806.12" x2="54.7" y2="806.12" stroke="#000" stroke-width="1.8"/>
<text transform="translate(49.20,811.02) scale(1.01,1.1)" text-anchor="end" font-family='"Liberation Serif", serif' font-weight="bold" font-size="12.3">9.0</text>
<line x1="50.2" y1="768.08" x2="54.7" y2="768.08" stroke="#000" stroke-width="1.8"/>
<text transform="translate(49.20,772.98) scale(1.01,1.1)" text-anchor="end" font-family='"Liberation Serif", serif' font-weight="bold" font-size="12.3">10.0</text>
<line x1="62" y1="1084" x2="517.8" y2="1084" stroke="#000" stroke-width="1.8"/>
<line x1="80.9" y1="1084" x2="80.9" y2="1088.6" stroke="#000" stroke-width="1.8"/>
<text transform="translate(81.20,1100.80) scale(1.01,1.1)" text-anchor="middle" font-family='"Liberation Serif", serif' font-weight="bold" font-size="12.3">Rest</text>
<line x1="118.95" y1="1084" x2="118.95" y2="1088.6" stroke="#000" stroke-width="1.8"/>
<text transform="translate(119.25,1100.80) scale(1.01,1.1)" text-anchor="middle" font-family='"Liberation Serif", serif' font-weight="bold" font-size="12.3">60</text>
<line x1="157" y1="1084" x2="157" y2="1088.6" stroke="#000" stroke-width="1.8"/>
<text transform="translate(157.30,1100.80) scale(1.01,1.1)" text-anchor="middle" font-family='"Liberation Serif", serif' font-weight="bold" font-size="12.3">0</text>
<line x1="195.05" y1="1084" x2="195.05" y2="1088.6" stroke="#000" stroke-width="1.8"/>
<text transform="translate(195.35,1100.80) scale(1.01,1.1)" text-anchor="middle" font-family='"Liberation Serif", serif' font-weight="bold" font-size="12.3">15</text>
<line x1="233.1" y1="1084" x2="233.1" y2="1088.6" stroke="#000" stroke-width="1.8"/>
<text transform="translate(233.40,1100.80) scale(1.01,1.1)" text-anchor="middle" font-family='"Liberation Serif", serif' font-weight="bold" font-size="12.3">30</text>
<line x1="271.15" y1="1084" x2="271.15" y2="1088.6" stroke="#000" stroke-width="1.8"/>
<text transform="translate(271.45,1100.80) scale(1.01,1.1)" text-anchor="middle" font-family='"Liberation Serif", serif' font-weight="bold" font-size="12.3">Meal</text>
<line x1="309.2" y1="1084" x2="309.2" y2="1088.6" stroke="#000" stroke-width="1.8"/>
<text transform="translate(309.50,1100.80) scale(1.01,1.1)" text-anchor="middle" font-family='"Liberation Serif", serif' font-weight="bold" font-size="12.3">30</text>
<line x1="347.25" y1="1084" x2="347.25" y2="1088.6" stroke="#000" stroke-width="1.8"/>
<text transform="translate(347.55,1100.80) scale(1.01,1.1)" text-anchor="middle" font-family='"Liberation Serif", serif' font-weight="bold" font-size="12.3">60</text>
<line x1="385.3" y1="1084" x2="385.3" y2="1088.6" stroke="#000" stroke-width="1.8"/>
<text transform="translate(385.60,1100.80) scale(1.01,1.1)" text-anchor="middle" font-family='"Liberation Serif", serif' font-weight="bold" font-size="12.3">90</text>
<line x1="423.35" y1="1084" x2="423.35" y2="1088.6" stroke="#000" stroke-width="1.8"/>
<text transform="translate(423.65,1100.80) scale(1.01,1.1)" text-anchor="middle" font-family='"Liberation Serif", serif' font-weight="bold" font-size="12.3">120</text>
<line x1="461.4" y1="1084" x2="461.4" y2="1088.6" stroke="#000" stroke-width="1.8"/>
<text transform="translate(461.70,1100.80) scale(1.01,1.1)" text-anchor="middle" font-family='"Liberation Serif", serif' font-weight="bold" font-size="12.3">150</text>
<line x1="499.45" y1="1084" x2="499.45" y2="1088.6" stroke="#000" stroke-width="1.8"/>
<text transform="translate(499.75,1100.80) scale(1.01,1.1)" text-anchor="middle" font-family='"Liberation Serif", serif' font-weight="bold" font-size="12.3">180</text>
<text transform="translate(291.00,1123.20) scale(1.02,1.1)" text-anchor="middle" font-family='"Liberation Serif", serif' font-weight="bold" font-size="12.3">Sample Point (min)</text>
<text transform="translate(23.2,919.3) scale(1,1.125) rotate(-90)" x="0" y="0" text-anchor="middle" font-family='"Liberation Sans", sans-serif' font-weight="bold" font-size="10.5">TNF-α (pg/mL)</text>
<text x="-0.4" y="783.5" font-family='"Liberation Sans", sans-serif' font-weight="bold" font-size="27.2">C</text>
</svg>
</body></html>
